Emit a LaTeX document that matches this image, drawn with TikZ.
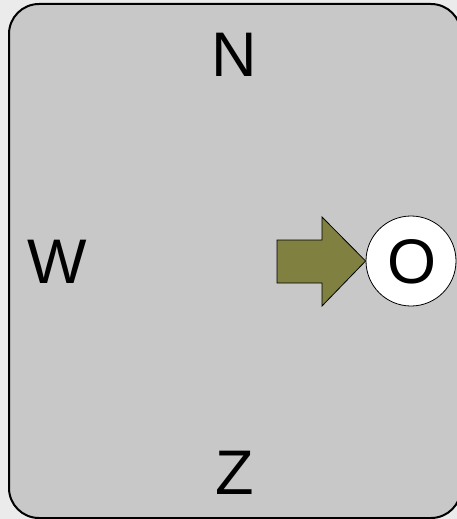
\documentclass[tikz,border=0pt]{standalone}
\usepackage{fontspec}
\setmainfont{Liberation Sans}
\definecolor{outbg}{HTML}{EBEBEB}
\definecolor{panel}{HTML}{C8C8C8}
\definecolor{olive}{HTML}{808040}
\begin{document}
\begin{tikzpicture}[x=1pt,y=-1pt,
  lbl/.style={inner sep=0pt,anchor=base,font=\fontsize{63}{63}\selectfont},
  panelbox/.style={draw=black,line width=2pt,fill=panel,rounded corners=30pt},
  outcircle/.style={circle,draw=black,line width=0.8pt,fill=white,minimum size=90pt,inner sep=0pt},
  blockarrow/.style={draw=black,line width=0.8pt,fill=olive}]
\fill[outbg] (0,0) rectangle (457,519);
\useasboundingbox (0,0) rectangle (457,519);
\draw[panelbox] (9,4) rectangle (461,518);
\node[lbl] (n) at (234,76) {N};
\node[lbl] (w) at (57.5,283) {W};
\node[lbl] (z) at (235,494) {Z};
\node[outcircle] (oc) at (411,261) {};
\node[lbl] (o) at (412,283) {O};
\coordinate (tip) at (oc.west);
\draw[blockarrow] (277,240) -- (322,240) -- (322,217) -- (tip) -- (322,306) -- (322,283) -- (277,283) -- cycle;
\end{tikzpicture}
\end{document}
